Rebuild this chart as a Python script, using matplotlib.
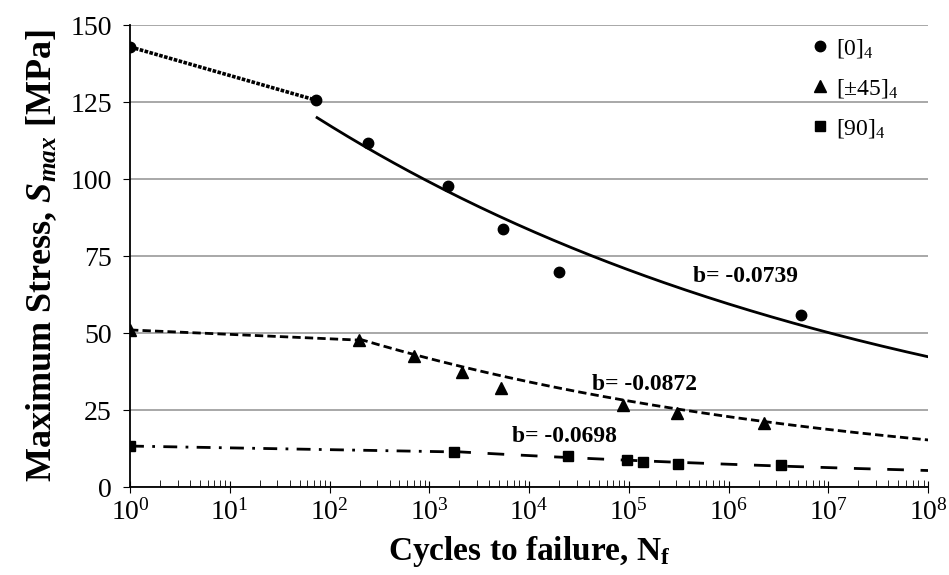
import matplotlib
matplotlib.use("Agg")
import matplotlib.pyplot as plt
from matplotlib.ticker import LogLocator, FixedLocator
import numpy as np

plt.rcParams["font.family"] = ["Liberation Serif", "DejaVu Serif"]
plt.rcParams["mathtext.fontset"] = "custom"
plt.rcParams["mathtext.rm"] = "Liberation Serif"
plt.rcParams["mathtext.it"] = "Liberation Serif:italic"
plt.rcParams["mathtext.bf"] = "Liberation Serif:bold"
plt.rcParams["mathtext.bfit"] = "Liberation Serif:italic:bold"

# test data
n_0 = [1, 73, 243, 1550, 5500, 20000, 5.3e6]
s_0 = [142.9, 125.6, 111.7, 97.7, 83.8, 69.8, 55.8]

n_45 = [1, 198, 700, 2140, 5240, 87000, 303000, 2.28e6]
s_45 = [51.0, 47.7, 42.5, 37.3, 32.1, 26.6, 24.0, 20.8]

n_90 = [1, 1780, 24500, 96000, 138000, 310000, 3.36e6]
s_90 = [13.3, 11.4, 10.1, 8.8, 8.1, 7.5, 7.1]

# power-law fits S = A * N^b (b from the chart labels)
fit_0 = (165.0, -0.0739, 75)
fit_45 = (76.2, -0.0872, 200)
fit_90 = (19.4, -0.0698, 1780)

fig = plt.figure(figsize=(9.49, 5.75), dpi=100)
ax = fig.add_axes([0.137, 0.153, 0.841, 0.8035])

def fit_curve(A, b, n_start):
    n = np.logspace(np.log10(n_start), 8, 200)
    return n, A * n ** b

# low-cycle segments joining the static points
ax.plot(n_0[:2], s_0[:2], color="black", lw=2.6, ls=(0, (1, 0.4)))
ax.plot(n_45[:2], s_45[:2], color="black", lw=2.0, ls=(0, (3, 1.5)))
ax.plot(n_90[:2], s_90[:2], color="black", lw=2.0, ls=(0, (5, 3, 1, 3)))

n, s = fit_curve(*fit_0)
ax.plot(n, s, color="black", lw=2.0)
n, s = fit_curve(*fit_45)
ax.plot(n, s, color="black", lw=2.0, ls=(0, (3, 1.5)))
n, s = fit_curve(*fit_90)
ax.plot(n, s, color="black", lw=2.0, ls=(0, (6, 6)))

ax.plot(n_0, s_0, "o", color="black", ms=7.5, label="[0]$_4$")
ax.plot(n_45, s_45, "^", color="black", ms=8, label="[±45]$_4$")
ax.plot(n_90, s_90, "s", color="black", ms=7, label="[90]$_4$")

ax.text(4.4e5, 66.5, "b= -0.0739", fontsize=17, fontweight="bold")
ax.text(4.3e4, 31.5, "b= -0.0872", fontsize=17, fontweight="bold")
ax.text(6.8e3, 14.6, "b= -0.0698", fontsize=17, fontweight="bold")

ax.set_xscale("log")
ax.set_xlim(1, 1e8)
ax.set_ylim(0, 150)
ax.set_yticks([0, 25, 50, 75, 100, 125, 150])
ax.xaxis.set_major_locator(FixedLocator([10.0 ** k for k in range(9)]))
ax.set_xticklabels([f"$10^{{{k}}}$" for k in range(9)])
ax.xaxis.set_minor_locator(LogLocator(base=10, subs=np.arange(2, 10), numticks=20))

ax.grid(axis="y", color="#9a9a9a", lw=1.2)
ax.set_axisbelow(True)
for side in ["top", "right"]:
    ax.spines[side].set_visible(False)
ax.spines["left"].set_linewidth(1.3)
ax.spines["bottom"].set_linewidth(1.3)

ax.tick_params(axis="y", labelsize=20, length=5, direction="out", pad=8)
ax.tick_params(axis="x", which="major", labelsize=20, length=8, direction="inout", pad=5)
ax.tick_params(axis="x", which="minor", length=5, direction="in")

ax.set_xlabel("Cycles to failure, N$_\\mathbf{f}$", fontsize=24, fontweight="bold", labelpad=6)
ax.set_ylabel("Maximum Stress, $\\mathbfit{S}_{\\mathbfit{max}}$ [MPa]", fontsize=26,
              fontweight="bold", labelpad=8)

ax.legend(loc="upper right", frameon=False, fontsize=17, handlelength=0.8,
          handletextpad=0.3, labelspacing=0.72, bbox_to_anchor=(0.99, 1.02))

fig.savefig("out.png", dpi=100)
